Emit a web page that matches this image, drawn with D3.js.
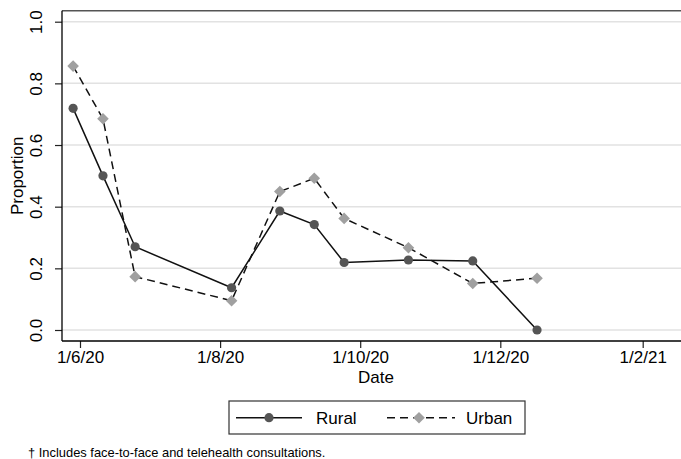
<!DOCTYPE html>
<html>
<head>
<meta charset="utf-8">
<script src="https://cdn.jsdelivr.net/npm/d3@7"></script>
<style>
  html, body { margin: 0; padding: 0; background: #fff; }
  svg { display: block; font-family: "Liberation Sans", Arial, Helvetica, sans-serif; }
</style>
</head>
<body>
<svg id="chart" width="681" height="459"></svg>
<script>
// Survey dates (day/month/year) and the proportion for each group
const dates = ["29/5/20", "11/6/20", "25/6/20", "6/8/20", "27/8/20", "11/9/20", "24/9/20", "22/10/20", "19/11/20", "17/12/20"];
const rural = [0.719, 0.500, 0.270, 0.137, 0.386, 0.342, 0.219, 0.227, 0.224, 0.000];
const urban = [0.856, 0.685, 0.173, 0.095, 0.449, 0.492, 0.362, 0.267, 0.151, 0.168];
const xTicks = ["1/6/20", "1/8/20", "1/10/20", "1/12/20", "1/2/21"];
const yTicks = [0, 0.2, 0.4, 0.6, 0.8, 1.0];
const seriesNames = ["Rural", "Urban"];
const footnote = "\u2020 Includes face-to-face and telehealth consultations.";

const parseDate = d3.utcParse("%d/%m/%y");
const fmtDate = d3.utcFormat("%-d/%-m/%y");

const svg = d3.select("#chart");

// Plot frame
const frameL = 62, frameT = 10.7, frameB = 341, frameR = 700;

const x = d3.scaleUtc()
  .domain([parseDate("1/6/20"), parseDate("1/2/21")])
  .range([80, 642.7]);
const y = d3.scaleLinear().domain([0, 1]).range([330, 21.7]);

// Horizontal grid
svg.append("g")
  .selectAll("line")
  .data(yTicks)
  .join("line")
  .attr("x1", frameL).attr("x2", frameR)
  .attr("y1", d => y(d)).attr("y2", d => y(d))
  .attr("stroke", "#e2e2e2").attr("stroke-width", 1.5);

// Top border of the plot region
svg.append("line")
  .attr("x1", frameL).attr("x2", frameR)
  .attr("y1", frameT).attr("y2", frameT)
  .attr("stroke", "#555").attr("stroke-width", 1.5);

// Y axis
const yAxis = svg.append("g")
  .attr("transform", `translate(${frameL},0)`)
  .call(d3.axisLeft(y).tickValues(yTicks).tickFormat(d3.format(".1f")).tickSize(7).tickSizeOuter(0));
yAxis.select(".domain").remove();
yAxis.append("line")
  .attr("x1", 0).attr("x2", 0).attr("y1", frameT).attr("y2", frameB)
  .attr("stroke", "#000").attr("stroke-width", 1.3);
yAxis.selectAll(".tick line").attr("stroke", "#222").attr("stroke-width", 1.2);
yAxis.selectAll(".tick text")
  .attr("font-size", 17).attr("fill", "#000")
  .attr("transform", "rotate(-90)")
  .attr("x", 0).attr("y", -20).attr("dy", 0)
  .attr("text-anchor", "middle");

// X axis
const xAxis = svg.append("g")
  .attr("transform", `translate(0,${frameB})`)
  .call(d3.axisBottom(x).tickValues(xTicks.map(parseDate)).tickFormat(fmtDate).tickSize(7).tickSizeOuter(0));
xAxis.select(".domain").remove();
xAxis.append("line")
  .attr("x1", frameL).attr("x2", frameR).attr("y1", 0).attr("y2", 0)
  .attr("stroke", "#000").attr("stroke-width", 1.3);
xAxis.selectAll(".tick line").attr("stroke", "#222").attr("stroke-width", 1.2);
xAxis.selectAll(".tick text")
  .attr("font-size", 17).attr("fill", "#000").attr("y", 10).attr("dy", "0.71em");

// Axis titles
svg.append("text")
  .attr("x", 376).attr("y", 383)
  .attr("text-anchor", "middle").attr("font-size", 17).attr("fill", "#000")
  .text("Date");
svg.append("text")
  .attr("transform", `translate(23,${(frameT + frameB) / 2}) rotate(-90)`)
  .attr("text-anchor", "middle").attr("font-size", 17).attr("fill", "#000")
  .text("Proportion");

// Series
const pts = arr => arr.map((v, i) => ({ d: parseDate(dates[i]), v }));
const line = d3.line().x(p => x(p.d)).y(p => y(p.v));

svg.append("path")
  .attr("d", line(pts(urban)))
  .attr("fill", "none").attr("stroke", "#111").attr("stroke-width", 1.5)
  .attr("stroke-dasharray", "8,5");
svg.append("path")
  .attr("d", line(pts(rural)))
  .attr("fill", "none").attr("stroke", "#111").attr("stroke-width", 1.5);

function drawDiamond(g, cx, cy, r) {
  g.append("path")
    .attr("d", `M${cx},${cy - r}L${cx + r},${cy}L${cx},${cy + r}L${cx - r},${cy}Z`)
    .attr("fill", "#a0a0a0");
}

const urbanG = svg.append("g");
pts(urban).forEach(p => drawDiamond(urbanG, x(p.d), y(p.v), 5.8));

svg.append("g")
  .selectAll("circle")
  .data(pts(rural))
  .join("circle")
  .attr("cx", p => x(p.d)).attr("cy", p => y(p.v))
  .attr("r", 4.6).attr("fill", "#555");

// Legend
const legend = svg.append("g");
legend.append("rect")
  .attr("x", 229).attr("y", 401).attr("width", 296).attr("height", 33)
  .attr("fill", "#fff").attr("stroke", "#333").attr("stroke-width", 1.2);
const ly = 417.7;
legend.append("line")
  .attr("x1", 236).attr("x2", 302).attr("y1", ly).attr("y2", ly)
  .attr("stroke", "#111").attr("stroke-width", 1.5);
legend.append("circle").attr("cx", 269).attr("cy", ly).attr("r", 4.6).attr("fill", "#555");
legend.append("text").attr("x", 316).attr("y", ly + 6).attr("font-size", 17).attr("fill", "#000").text(seriesNames[0]);
legend.append("line")
  .attr("x1", 387).attr("x2", 455).attr("y1", ly).attr("y2", ly)
  .attr("stroke", "#111").attr("stroke-width", 1.5).attr("stroke-dasharray", "8,5");
drawDiamond(legend, 419, ly, 5.8);
legend.append("text").attr("x", 466).attr("y", ly + 6).attr("font-size", 17).attr("fill", "#000").text(seriesNames[1]);

// Footnote
svg.append("text")
  .attr("x", 28).attr("y", 457)
  .attr("font-size", 12.9).attr("fill", "#000")
  .text(footnote);
</script>
</body>
</html>
